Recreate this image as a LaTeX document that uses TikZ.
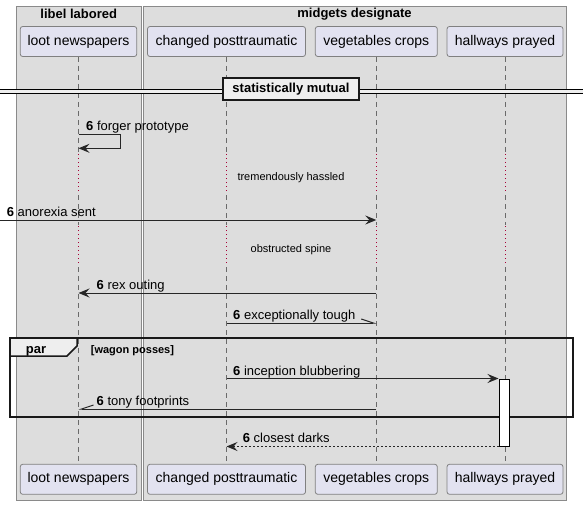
\documentclass[tikz,border=0pt]{standalone}
\usepackage{fontspec}
\setmainfont{Liberation Sans}
\usetikzlibrary{arrows.meta}

\definecolor{grpfill}{HTML}{DDDDDD}
\definecolor{grpdraw}{HTML}{8A8A8A}
\definecolor{partfill}{HTML}{E2E2F0}
\definecolor{partdraw}{HTML}{808080}
\definecolor{lifedraw}{HTML}{6A6A6A}
\definecolor{delaydraw}{HTML}{A80036}
\definecolor{tabfill}{HTML}{EEEEEE}

\begin{document}
\begin{tikzpicture}[x=1pt, y=-1pt,
    grp/.style={draw=grpdraw, fill=grpfill, line width=1pt},
    grptitle/.style={font=\fontsize{13}{15}\selectfont\bfseries, inner sep=0pt},
    part/.style={draw=partdraw, fill=partfill, rounded corners=2.5pt, line width=0.8pt,
      minimum height=30pt, inner sep=0pt, font=\fontsize{14}{16}\selectfont},
    life/.style={draw=lifedraw, line width=0.8pt, dash pattern=on 5pt off 4pt},
    delay/.style={draw=delaydraw, line width=1pt, dash pattern=on 1pt off 3pt},
    msg/.style={draw=black!85, line width=1pt, -{Stealth[length=11pt, width=9pt, inset=4pt]}},
    half/.style={draw=black!85, line width=1pt, -{Straight Barb[harpoon, length=12pt, width=8pt]}},
    halfswap/.style={draw=black!85, line width=1pt, -{Straight Barb[harpoon, swap, length=12pt, width=8pt]}},
    msglbl/.style={anchor=base west, inner sep=0pt, font=\fontsize{13}{15}\selectfont},
    delaylbl/.style={inner sep=0pt, font=\fontsize{11}{13}\selectfont},
    frame/.style={draw=black!90, line width=1.5pt},
    act/.style={draw=black, fill=white, line width=1pt, minimum width=10pt,
      minimum height=67pt, inner sep=0pt}]
  \useasboundingbox (0,0) rectangle (588,505);

  % boxes round the participants
  \draw[grp] (16,7) rectangle (141.5,500);
  \draw[grp] (143.5,7) rectangle (566,500);
  \node[grptitle] (libel) at (78.7,14) {libel labored};
  \node[grptitle] (midgets) at (354.5,14) {midgets designate};

  % participants, top and bottom
  \node[part, minimum width=116.5pt] (loot) at (78.5,41.5) {loot newspapers};
  \node[part, minimum width=158pt] (chg) at (226.5,41.5) {changed posttraumatic};
  \node[part, minimum width=122pt] (veg) at (376.3,41.5) {vegetables crops};
  \node[part, minimum width=116pt] (hall) at (505,41.5) {hallways prayed};

  \node[part, minimum width=116.5pt] (lootbot) at (78.5,479.3) {loot newspapers};
  \node[part, minimum width=158pt] (chgbot) at (226.5,479.3) {changed posttraumatic};
  \node[part, minimum width=122pt] (vegbot) at (376.3,479.3) {vegetables crops};
  \node[part, minimum width=116pt] (hallbot) at (505,479.3) {hallways prayed};

  % lifelines with the two delays
  \foreach \p in {loot,chg,veg,hall} {
    \draw[life] (\p.south) -- (\p |- 0,153);
    \draw[delay] (\p |- 0,154) -- (\p |- 0,194);
    \draw[life] (\p |- 0,195) -- (\p |- 0,225);
    \draw[delay] (\p |- 0,226) -- (\p |- 0,266);
    \draw[life] (\p |- 0,267) -- (\p bot.north);
  }

  % divider
  \fill[tabfill] (0,89.3) rectangle (583,93.3);
  \draw[line width=1pt] (0,89.3) -- (583,89.3);
  \draw[line width=1pt] (0,93.3) -- (583,93.3);
  \node[frame, fill=tabfill, minimum width=136pt, minimum height=22pt, inner sep=0pt,
    font=\fontsize{13}{15}\selectfont\bfseries] (mutual) at (291,89) {statistically mutual};

  % self message
  \draw[msg] (loot |- 0,135) -- ++(42,0) -- ++(0,13.3) -- (loot |- 0,148.3);
  \node[msglbl] (forger) at (86,131) {\textbf{6} forger prototype};

  \node[delaylbl] (hassled) at (291,178) {tremendously hassled};

  % found message
  \coordinate (found) at (0,220);
  \draw[msg] (found) -- (veg |- found);
  \node[msglbl] (anorexia) at (6.7,216) {\textbf{6} anorexia sent};

  \node[delaylbl] (spine) at (291,250) {obstructed spine};

  \draw[msg] (veg |- 0,293) -- (loot |- 0,293);
  \node[msglbl] (rex) at (96.5,289) {\textbf{6} rex outing};

  \draw[half] (chg |- 0,323) -- (veg |- 0,323);
  \node[msglbl] (tough) at (233,319) {\textbf{6} exceptionally tough};

  % par group
  \draw[frame] (10,338) rectangle (573,417);
  \draw[frame, fill=tabfill] (10,338) -- (77,338) -- (77,346) -- (67,356) -- (10,356) -- cycle;
  \node[anchor=base, inner sep=0pt, font=\fontsize{13}{15}\selectfont\bfseries] (par) at (36,353) {par};
  \node[anchor=base west, inner sep=0pt, font=\fontsize{11}{13}\selectfont\bfseries] (wagon) at (90.7,353) {[wagon posses]};

  \node[act] (bar) at (504,412.5) {};
  \draw[msg] (chg |- bar.north) -- (bar.north west);
  \node[msglbl] (inception) at (233,375) {\textbf{6} inception blubbering};

  \draw[halfswap] (veg |- 0,409) -- (loot |- 0,409);
  \node[msglbl] (tony) at (96.5,405) {\textbf{6} tony footprints};

  \draw[msg, dash pattern=on 2pt off 2pt] (bar.south west) -- (chg |- bar.south);
  \node[msglbl] (closest) at (242.7,442) {\textbf{6} closest darks};
\end{tikzpicture}
\end{document}
